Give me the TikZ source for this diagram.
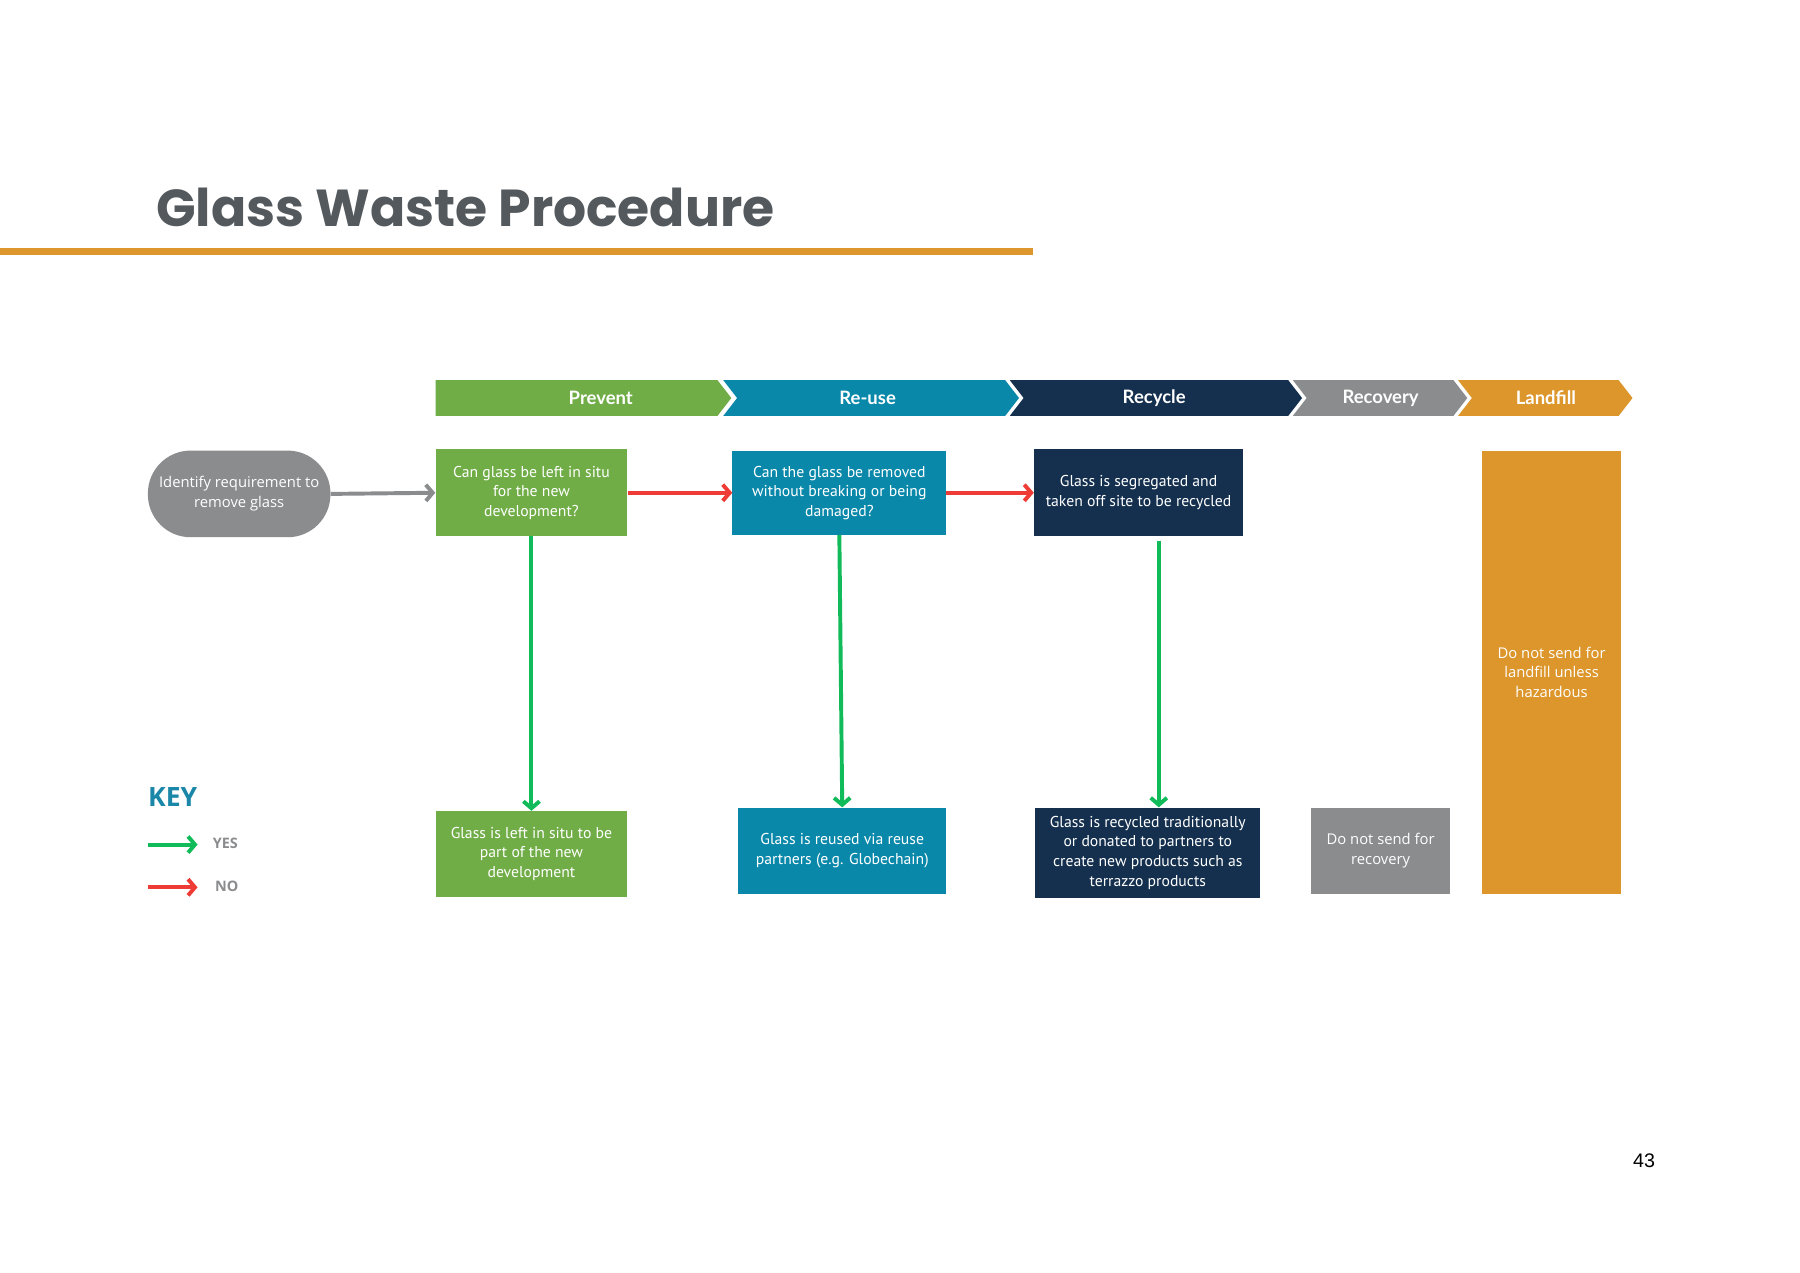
\documentclass[tikz,border=0pt]{standalone}
\usepackage{fontspec}
\setmainfont{Open Sans}
\newfontfamily\titlefont{Poppins}
\newfontfamily\boxfont{PT Sans}
\newfontfamily\headfont{Lato}
\newfontfamily\numfont{Liberation Sans}
\usetikzlibrary{arrows.meta,calc}
\definecolor{cGreen}{HTML}{70AD47}
\definecolor{cTeal}{HTML}{0A88AA}
\definecolor{cNavy}{HTML}{14304E}
\definecolor{cGrey}{HTML}{8A8C8E}
\definecolor{cOrange}{HTML}{DC962C}
\definecolor{cRed}{HTML}{EE3B36}
\definecolor{cYes}{HTML}{12BB5A}
\definecolor{cTitle}{HTML}{54595D}
\definecolor{cKey}{HTML}{1A87A8}
\begin{document}
\begin{tikzpicture}[x=1pt,y=-1pt,
  box/.style={draw=none,text=white,align=center,inner sep=2pt,
    font=\boxfont\fontsize{13.6}{17}\selectfont},
  softbox/.style={draw=none,text=white,align=center,inner sep=2pt,
    font=\fontsize{12.8}{17}\selectfont},
  head/.style={text=white,font=\headfont\bfseries\fontsize{16}{18}\selectfont,inner sep=0pt},
  yesarrow/.style={draw=cYes,line width=3.4pt,-{Straight Barb[length=6pt,width=14pt]}},
  noarrow/.style={draw=cRed,line width=3.4pt,-{Straight Barb[length=6pt,width=14pt]}},
  greyarrow/.style={draw=cGrey,line width=3.4pt,-{Straight Barb[length=6pt,width=14pt]}},
  keylabel/.style={text=cGrey,font=\bfseries\fontsize{12.5}{14}\selectfont,anchor=west,inner sep=0pt}
]
\useasboundingbox[fill=white] (0,0) rectangle (1558,1101);

% title
\node[anchor=base west,inner sep=0pt,text=cTitle,font=\titlefont\bfseries\fontsize{45}{50}\selectfont] (title) at (135,196) {Glass Waste Procedure};
\fill[cOrange] (0,215) rectangle (894,221);

% chevron header band
\fill[cGreen] (377,329) -- (621,329) -- (633,344.5) -- (621,360) -- (377,360) -- cycle;
\fill[cTeal] (626,329) -- (870,329) -- (882,344.5) -- (870,360) -- (626,360) -- (638,344.5) -- cycle;
\fill[cNavy] (874,329) -- (1115,329) -- (1127,344.5) -- (1115,360) -- (874,360) -- (886,344.5) -- cycle;
\fill[cGrey] (1119,329) -- (1258,329) -- (1270,344.5) -- (1258,360) -- (1119,360) -- (1131,344.5) -- cycle;
\fill[cOrange] (1262,329) -- (1401,329) -- (1413,344.5) -- (1401,360) -- (1262,360) -- (1274,344.5) -- cycle;
\node[head] (hPrevent) at (520,344.5) {Prevent};
\node[head] (hReuse) at (751,344.5) {Re-use};
\node[head] (hRecycle) at (999,344.5) {Recycle};
\node[head] (hRecovery) at (1195,344.5) {Recovery};
\node[head] (hLandfill) at (1338,344.5) {Landfill};

% nodes
\node[softbox,fill=cGrey,minimum width=158pt,minimum height=75pt,rounded corners=37pt] (start) at (207,427.5) {Identify requirement to\\remove glass};
\node[box,fill=cGreen,minimum width=166pt,minimum height=75pt] (q1) at (460,426.5) {Can glass be left in situ\\for the new\\development?};
\node[box,fill=cTeal,minimum width=185pt,minimum height=73pt] (q2) at (726.5,426.5) {Can the glass be removed\\without breaking or being\\damaged?};
\node[box,fill=cNavy,minimum width=181pt,minimum height=75pt] (r1) at (985.5,426.5) {Glass is segregated and\\taken off site to be recycled};
\node[softbox,fill=cOrange,minimum width=120pt,minimum height=384pt] (land) at (1343,582) {Do not send for\\landfill unless\\hazardous};

\node[box,fill=cGreen,minimum width=166pt,minimum height=74pt] (b1) at (460,739) {Glass is left in situ to be\\part of the new\\development};
\node[box,fill=cTeal,minimum width=180pt,minimum height=75pt] (b2) at (729,736.5) {Glass is reused via reuse\\partners (e.g. Globechain)};
\node[box,fill=cNavy,minimum width=195pt,minimum height=78pt] (b3) at (993.5,738) {Glass is recycled traditionally\\or donated to partners to\\create new products such as\\terrazzo products};
\node[softbox,fill=cGrey,minimum width=120pt,minimum height=75pt] (b4) at (1195,736.5) {Do not send for\\recovery};

% connectors
\draw[greyarrow] (start.east) -- (q1.west);
\draw[noarrow] (q1.east) -- (q2.west);
\draw[noarrow] (q2.east) -- (r1.west);
\draw[yesarrow] (q1.south) -- (b1.north);
\draw[yesarrow] (q2.south) -- (b2.north);
\draw[yesarrow] ([xshift=17.5pt,yshift=-4pt]r1.south) -- ([xshift=9.5pt]b3.north);

% key
\node[anchor=base west,inner sep=0pt,text=cKey,font=\bfseries\fontsize{23}{26}\selectfont] (key) at (128,698) {KEY};
\coordinate (ya) at (128,731);
\coordinate (yb) at (171,731);
\coordinate (na) at (128,768);
\coordinate (nb) at (171,768);
\draw[yesarrow] (ya) -- (yb);
\draw[noarrow] (na) -- (nb);
\node[keylabel] (yes) at (184,730) {YES};
\node[keylabel] (no) at (186,767) {NO};

% page number
\node[inner sep=0pt,font=\numfont\fontsize{17}{20}\selectfont] (page) at (1423,1005) {43};
\end{tikzpicture}
\end{document}
